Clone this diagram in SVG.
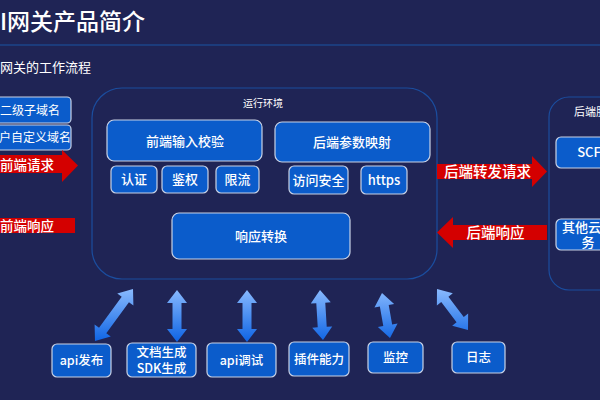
<svg xmlns="http://www.w3.org/2000/svg" width="600" height="400" viewBox="0 0 600 400">
<defs>
<linearGradient id="bg" x1="0" y1="288" x2="0" y2="342" gradientUnits="userSpaceOnUse">
<stop offset="0" stop-color="#8cbcff"/>
<stop offset="1" stop-color="#0d63e4"/>
</linearGradient>
<style>
text{font-family:"Noto Sans CJK SC","Liberation Sans",sans-serif;fill:#ffffff}
.box{fill:#0b5ccb;stroke:#c9d2e6;stroke-width:1.2}
.cont{fill:none;stroke:#1b4d9e;stroke-width:1.2}
.red{fill:#d40000}
.dbl{fill:url(#bg)}
.t12{font-size:12.5px;text-anchor:middle;font-weight:500}
.t13{font-size:13px;text-anchor:middle;font-weight:500}
</style>
</defs>
<rect width="600" height="400" fill="#1f2455"/>
<line x1="0" y1="45" x2="600" y2="45" stroke="#1c3c7c" stroke-width="2"/>
<text x="0" y="30" font-size="23" font-weight="500">I网关产品简介</text>
<text x="0" y="72" font-size="13">网关的工作流程</text>

<g id="domain1"><rect class="box" x="-6" y="97" width="77" height="26" rx="4"/><text x="0" y="115" font-size="12">二级子域名</text></g>
<g id="domain2"><rect class="box" x="-6" y="125" width="77" height="25" rx="4"/><text x="-1" y="142" font-size="12">户自定义域名</text></g>

<g id="runtime">
<rect class="cont" x="92" y="88" width="345" height="191" rx="30"/>
<text x="263" y="107" font-size="10" text-anchor="middle">运行环境</text>
</g>
<g id="n-frontcheck"><rect class="box" x="107" y="120" width="155" height="41" rx="7"/><text class="t13" x="185" y="146">前端输入校验</text></g>
<g id="n-backmap"><rect class="box" x="275" y="122" width="155" height="40" rx="7"/><text class="t13" x="352" y="147">后端参数映射</text></g>
<g id="n-auth"><rect class="box" x="111" y="166" width="46" height="27" rx="5"/><text class="t13" x="134" y="184">认证</text></g>
<g id="n-authz"><rect class="box" x="162" y="166" width="46" height="27" rx="5"/><text class="t13" x="185" y="184">鉴权</text></g>
<g id="n-limit"><rect class="box" x="216" y="166" width="43" height="27" rx="5"/><text class="t13" x="237.5" y="184">限流</text></g>
<g id="n-access"><rect class="box" x="289" y="166" width="59" height="28" rx="5"/><text class="t13" x="318.5" y="185">访问安全</text></g>
<g id="n-https"><rect class="box" x="361" y="166" width="46" height="28" rx="5"/><text class="t13" x="384" y="185">https</text></g>
<g id="n-resp"><rect class="box" x="172" y="213" width="178" height="46" rx="7"/><text class="t13" x="261" y="241">响应转换</text></g>

<g id="backend">
<rect class="cont" x="549" y="97" width="80" height="193" rx="20"/>
<text x="574" y="116" font-size="11">后端服务</text>
</g>
<g id="n-scf"><rect class="box" x="556" y="137" width="64" height="31" rx="5"/><text class="t13" x="589" y="157">SCF</text></g>
<g id="n-cloud"><rect class="box" x="556" y="219" width="64" height="31" rx="5"/><text class="t13" x="588" y="232">其他云服</text><text class="t13" x="588" y="247">务</text></g>

<g id="n-publish"><rect class="box" x="52" y="344" width="59" height="33" rx="5"/><text class="t12" x="81.5" y="365">api发布</text></g>
<g id="n-doc"><rect class="box" x="127" y="343" width="69" height="34" rx="5"/><text class="t12" x="161.5" y="357">文档生成</text><text class="t12" x="161.5" y="373">SDK生成</text></g>
<g id="n-debug"><rect class="box" x="207" y="343" width="69" height="34" rx="5"/><text class="t12" x="241.5" y="365">api调试</text></g>
<g id="n-plugin"><rect class="box" x="289" y="342" width="60" height="34" rx="5"/><text class="t12" x="319" y="364">插件能力</text></g>
<g id="n-monitor"><rect class="box" x="368" y="342" width="55" height="31" rx="5"/><text class="t12" x="395.5" y="362">监控</text></g>
<g id="n-log"><rect class="box" x="452" y="342" width="53" height="31" rx="5"/><text class="t12" x="478.5" y="362">日志</text></g>

<g id="connectors">
<g id="c-frontreq"><polygon class="red" points="-2,155 62,155 62,150 78,165.5 62,182 62,173 -2,173"/><text x="0" y="170" font-size="13.5" font-weight="500">前端请求</text></g>
<g id="c-frontresp"><rect class="red" x="-2" y="218" width="77" height="15"/><text x="0" y="231" font-size="13.5" font-weight="500">前端响应</text></g>
<g id="c-backreq"><polygon class="red" points="437,164 532,164 532,156 547,171.5 532,187 532,179 437,179"/><text x="487.5" y="177" font-size="14.5" font-weight="500" text-anchor="middle">后端转发请求</text></g>
<g id="c-backresp"><polygon class="red" points="547,225 453,225 453,217 437,232.5 453,248 453,240 547,240"/><text x="495.5" y="238" font-size="14.5" font-weight="500" text-anchor="middle">后端响应</text></g>
<polygon class="dbl" points="133,289 133.4,305.39 128.96,302.15 106.3,333.17 110.74,336.41 95,341 94.6,324.61 99.04,327.85 121.7,296.83 117.26,293.59"/>
<polygon class="dbl" points="177,290 187,303 181.5,303 181.5,329 187,329 177,342 167,329 172.5,329 172.5,303 167,303"/>
<polygon class="dbl" points="247,290 257,303 251.5,303 251.5,329 257,329 247,342 237,329 242.5,329 242.5,303 237,303"/>
<polygon class="dbl" points="320,290 330.76,302.37 325.27,302.7 326.71,326.76 332.2,326.43 323,340 312.24,327.63 317.73,327.3 316.29,303.24 310.8,303.57"/>
<polygon class="dbl" points="382,293 394.12,304.05 388.71,305.01 392.15,324.41 397.56,323.45 390,338 377.88,326.95 383.29,325.99 379.85,306.59 374.44,307.55"/>
<polygon class="dbl" points="437,289 452.82,293.34 448.43,296.66 463.75,316.92 468.14,313.6 468,330 452.18,325.66 456.57,322.34 441.25,302.08 436.86,305.4"/>
</g>
</svg>
